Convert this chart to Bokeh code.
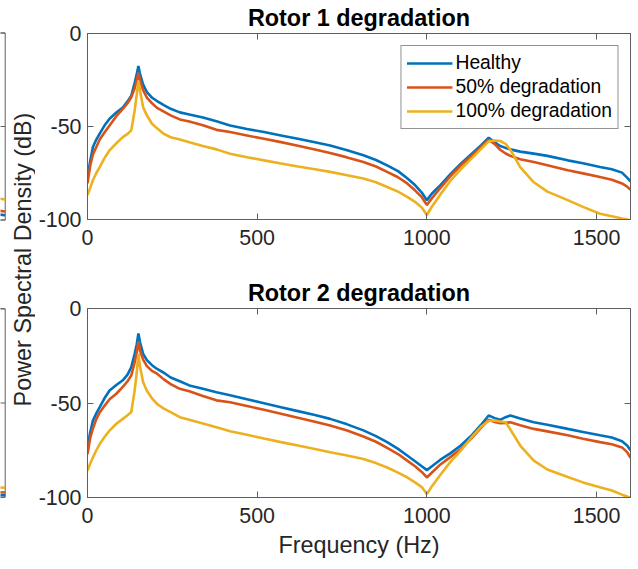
from math import pi

from bokeh.plotting import figure
from bokeh.layouts import row, column
from bokeh.models import Range1d, LinearAxis, FixedTicker, Label, Legend, LegendItem
from bokeh.embed import file_html
from bokeh.resources import INLINE

# ---- PSD data (dB) -------------------------------------------------------
freq = [0, 8, 16, 26, 36, 50, 65, 85, 104, 118,
        129, 139, 145, 150, 155, 164, 175, 190, 205, 225,
        245, 272, 300, 340, 380, 420, 470, 520, 570, 620,
        670, 715, 765, 813, 850, 883, 915, 942, 965, 985,
        1000, 1015, 1040, 1070, 1100, 1130, 1160, 1182, 1200, 1216,
        1232, 1246, 1275, 1315, 1355, 1415, 1460, 1510, 1545, 1575,
        1590, 1600]

r1_healthy = [-77.4, -68.5, -61.0, -57.0, -53.8, -49.5, -45.8, -42.5, -39.8, -36.5,
              -33.5, -26.5, -22.0, -17.5, -22.0, -27.5, -31.5, -34.5, -36.3, -38.5,
              -40.5, -42.4, -43.5, -45.2, -47.2, -49.5, -51.3, -53.0, -54.8, -56.6,
              -58.5, -60.2, -62.8, -65.5, -68.0, -70.9, -74.0, -77.8, -81.5, -85.5,
              -89.6, -86.0, -81.5, -75.5, -70.0, -65.0, -60.0, -56.0, -58.5, -60.5,
              -61.5, -62.3, -63.5, -64.6, -65.8, -68.2, -69.8, -71.8, -73.0, -74.8,
              -77.5, -79.5]
r1_half = [-80.6, -71.0, -65.0, -61.0, -57.0, -53.2, -49.5, -44.5, -40.5, -37.5,
           -34.3, -29.5, -25.5, -21.0, -25.5, -30.5, -34.5, -37.5, -40.0, -42.0,
           -44.0, -46.2, -47.3, -49.3, -51.8, -53.0, -54.8, -56.6, -58.4, -60.4,
           -62.4, -64.3, -66.6, -69.1, -71.5, -74.4, -77.3, -80.6, -84.3, -88.0,
           -92.2, -88.5, -83.0, -76.5, -71.0, -66.0, -61.0, -57.1, -59.5, -62.5,
           -64.5, -65.8, -67.6, -69.1, -70.8, -73.5, -75.2, -77.1, -78.6, -80.6,
           -82.3, -84.0]
r1_full = [-86.9, -83.0, -78.9, -75.0, -71.8, -67.0, -62.8, -59.0, -55.7, -54.0,
           -52.1, -41.4, -33.0, -25.4, -31.0, -39.7, -44.0, -48.5, -51.0, -54.0,
           -55.8, -57.0, -58.5, -60.5, -62.3, -64.6, -66.5, -68.2, -69.9, -71.5,
           -73.0, -74.4, -76.2, -78.0, -80.0, -82.5, -85.0, -87.8, -90.5, -93.5,
           -97.6, -93.0, -86.5, -79.0, -73.0, -67.5, -62.0, -58.0, -57.5, -57.8,
           -59.3, -62.5, -71.8, -80.0, -85.0, -89.6, -93.2, -96.9, -98.3, -99.5,
           -100.0, -100.5]

r2_healthy = [-73.3, -65.5, -59.3, -55.5, -52.2, -47.5, -43.4, -40.5, -38.0, -35.0,
              -31.0, -24.0, -19.0, -13.2, -18.0, -24.0, -27.3, -30.0, -32.0, -34.0,
              -36.5, -38.5, -40.7, -42.5, -44.3, -45.9, -48.0, -50.1, -52.2, -54.3,
              -56.4, -58.4, -61.3, -64.5, -67.5, -70.7, -74.3, -77.8, -80.8, -83.5,
              -85.5, -83.5, -80.0, -76.5, -72.5, -67.5, -61.5, -56.6, -58.0, -58.9,
              -57.5, -56.6, -58.2, -60.2, -61.5, -63.7, -65.3, -67.1, -68.3, -70.2,
              -72.5, -75.0]
r2_half = [-77.0, -68.5, -63.5, -58.5, -55.0, -51.5, -48.0, -45.1, -41.5, -38.5,
           -35.4, -28.5, -23.5, -17.4, -22.5, -27.0, -30.5, -33.0, -34.5, -37.5,
           -40.0, -42.5, -43.8, -46.3, -48.6, -49.6, -51.6, -53.6, -55.7, -57.8,
           -59.9, -61.9, -64.6, -67.7, -70.5, -73.8, -77.0, -80.5, -83.5, -86.5,
           -89.4, -86.8, -82.5, -78.5, -74.3, -69.0, -63.0, -58.9, -60.0, -60.7,
           -60.5, -60.2, -61.8, -63.7, -65.0, -67.1, -68.9, -70.7, -71.8, -73.5,
           -76.0, -79.0]
r2_full = [-85.8, -82.0, -78.8, -75.0, -71.7, -68.0, -64.6, -61.0, -58.4, -56.5,
           -54.8, -43.4, -34.0, -23.9, -31.0, -39.0, -43.5, -47.5, -50.5, -53.0,
           -54.8, -57.5, -58.9, -60.8, -62.8, -65.0, -66.8, -68.8, -70.7, -72.5,
           -74.3, -76.1, -77.8, -79.6, -81.8, -84.1, -86.8, -89.4, -92.0, -94.5,
           -98.2, -94.0, -88.0, -81.0, -75.2, -68.5, -62.5, -59.5, -59.3, -59.8,
           -60.2, -64.0, -72.5, -80.5, -85.2, -89.2, -92.0, -94.6, -96.3, -98.5,
           -99.5, -100.3]

# last few Hz of the neighbouring panels (only their right edge is in view)
edge_freq = [1580, 1600]
edge1_healthy = [-97.0, -97.5]
edge1_half = [-95.0, -95.5]
edge1_full = [-88.5, -89.0]
edge2_healthy = [-98.8, -99.0]
edge2_half = [-97.3, -97.5]
edge2_full = [-94.8, -95.0]

series_labels = ["Healthy", "50% degradation", "100% degradation"]
series_colors = ["#0072BD", "#D95319", "#EDB120"]
x_ticks = [0, 500, 1000, 1500]
y_ticks = [-100, -50, 0]
y_tick_text = {-100: "-100", -50: "-50", 0: "0"}
titles = ["Rotor 1 degradation", "Rotor 2 degradation"]

FONT = "Liberation Sans"
AX = "#5e5e5e"
TXT = "#262626"
LW = 2.6

W = 638
H = 569
TOP_H = 270
LEFT_W = 35          # strip holding the neighbouring panels' edge and the y title
MAIN_W = W - LEFT_W


def style_axis(ax, ticks, labels=True, tick_in=6):
    ax.ticker = FixedTicker(ticks=ticks)
    ax.axis_line_color = AX
    ax.major_tick_line_color = AX
    ax.major_tick_in = tick_in
    ax.major_tick_out = 0
    ax.minor_tick_line_color = None
    ax.minor_tick_in = 0
    ax.minor_tick_out = 0
    ax.axis_label_standoff = 0
    ax.major_label_text_font = FONT
    if labels:
        ax.major_label_text_font_size = "21.4px"
        ax.major_label_text_color = TXT
    else:
        ax.major_label_text_font_size = "0px"
        ax.major_label_text_color = None
        ax.major_label_standoff = 0


def blank(width, height, **ranges):
    f = figure(width=width, height=height, output_backend="svg", toolbar_location=None,
               x_axis_location=None, y_axis_location=None,
               min_border_left=0, min_border_right=0, min_border_top=0, min_border_bottom=0,
               **ranges)
    f.xgrid.grid_line_color = None
    f.ygrid.grid_line_color = None
    f.outline_line_color = None
    f.background_fill_color = "white"
    f.border_fill_color = "white"
    return f


def panel(title, series, height, top, bottom, xlabel=None, legend=False):
    p = figure(width=MAIN_W, height=height, output_backend="svg", toolbar_location=None,
               x_range=Range1d(0, 1600), y_range=Range1d(-100, 0),
               min_border_left=48, min_border_right=8,
               min_border_top=top, min_border_bottom=bottom)
    p.title.text = title
    p.title.align = "center"
    p.title.text_font = FONT
    p.title.text_font_size = "23.4px"
    p.title.text_font_style = "bold"
    p.title.text_color = "#000000"
    p.title.standoff = 5
    p.xgrid.grid_line_color = None
    p.ygrid.grid_line_color = None
    p.outline_line_color = AX
    p.background_fill_color = "white"
    p.border_fill_color = "white"

    style_axis(p.xaxis[0], x_ticks)
    p.xaxis.major_label_standoff = 10
    style_axis(p.yaxis[0], y_ticks)
    p.yaxis.major_label_standoff = 6
    p.yaxis.major_label_overrides = y_tick_text
    if xlabel:
        p.xaxis.axis_label = xlabel
        p.xaxis.axis_label_text_font = FONT
        p.xaxis.axis_label_text_font_size = "23.4px"
        p.xaxis.axis_label_text_font_style = "normal"
        p.xaxis.axis_label_text_color = TXT
        p.xaxis.axis_label_standoff = 6

    top_ax = LinearAxis()
    style_axis(top_ax, x_ticks, labels=False)
    p.add_layout(top_ax, "above")
    right_ax = LinearAxis()
    style_axis(right_ax, y_ticks, labels=False)
    p.add_layout(right_ax, "right")

    renderers = []
    for ys, color in zip(series, series_colors):
        renderers.append(p.line(freq, ys, line_color=color, line_width=LW))

    if legend:
        items = [LegendItem(label=lab, renderers=[r]) for lab, r in zip(series_labels, renderers)]
        leg = Legend(items=items, location="top_right")
        leg.label_text_font = FONT
        leg.label_text_font_size = "19.3px"
        leg.label_text_color = "#000000"
        leg.border_line_color = TXT
        leg.border_line_width = 1
        leg.background_fill_color = "white"
        leg.background_fill_alpha = 1
        leg.padding = 5
        leg.spacing = 0
        leg.glyph_width = 46
        leg.glyph_height = 24
        leg.label_height = 24
        leg.label_standoff = 3
        leg.margin = 12
        p.add_layout(leg)
    return p


p1 = panel(titles[0], [r1_healthy, r1_half, r1_full], TOP_H, 32, 51, legend=True)
p2 = panel(titles[1], [r2_healthy, r2_half, r2_full], H - TOP_H, 38, 72,
           xlabel="Frequency (Hz)")


# ---- left strip: right edge of the neighbouring panels + shared y title ----
HZ_PER_PX = 3.0
EDGE_X = 4.7                 # screen x of the neighbouring panels' right border


def dB_range(top_px, bottom_px):
    """Range for a -100..0 dB axis whose 0 sits at top_px and -100 at bottom_px
    (pixels from the top of the page) on a strip that is H pixels tall."""
    k = 100.0 / (bottom_px - top_px)
    return Range1d(-100 - (H - bottom_px) * k, top_px * k)


x0 = 1600 - EDGE_X * HZ_PER_PX
left = blank(LEFT_W, H, x_range=Range1d(x0, x0 + LEFT_W * HZ_PER_PX), y_range=Range1d(0, H))
left.extra_y_ranges = {"n1": dB_range(32.5, 219.5), "n2": dB_range(308.3, 496.7)}

edges = {"n1": [edge1_healthy, edge1_half, edge1_full],
         "n2": [edge2_healthy, edge2_half, edge2_full]}
for name, series in edges.items():
    # axes box of the neighbouring panel (its left part lies off the page)
    left.quad(left=[x0 - 100], right=[1600], bottom=[y_ticks[0]], top=[y_ticks[-1]],
              fill_color=None, line_color=AX, line_width=1, y_range_name=name)
    left.segment(x0=[1600 - 5 * HZ_PER_PX] * len(y_ticks), x1=[1600] * len(y_ticks),
                 y0=y_ticks, y1=y_ticks, line_color=AX, line_width=1, y_range_name=name)
    for ys, color in zip(series, series_colors):
        left.line(edge_freq, ys, line_color=color, line_width=LW, y_range_name=name)

left.add_layout(Label(x=22.5, y=H - 259, x_units="screen", y_units="screen",
                      text="Power Spectral Density (dB)", angle=pi / 2,
                      text_align="center", text_baseline="middle",
                      text_font=FONT, text_font_size="23.4px", text_color=TXT))

layout = row(left, column(p1, p2))

open("out.html", "w").write(file_html(layout, INLINE))
